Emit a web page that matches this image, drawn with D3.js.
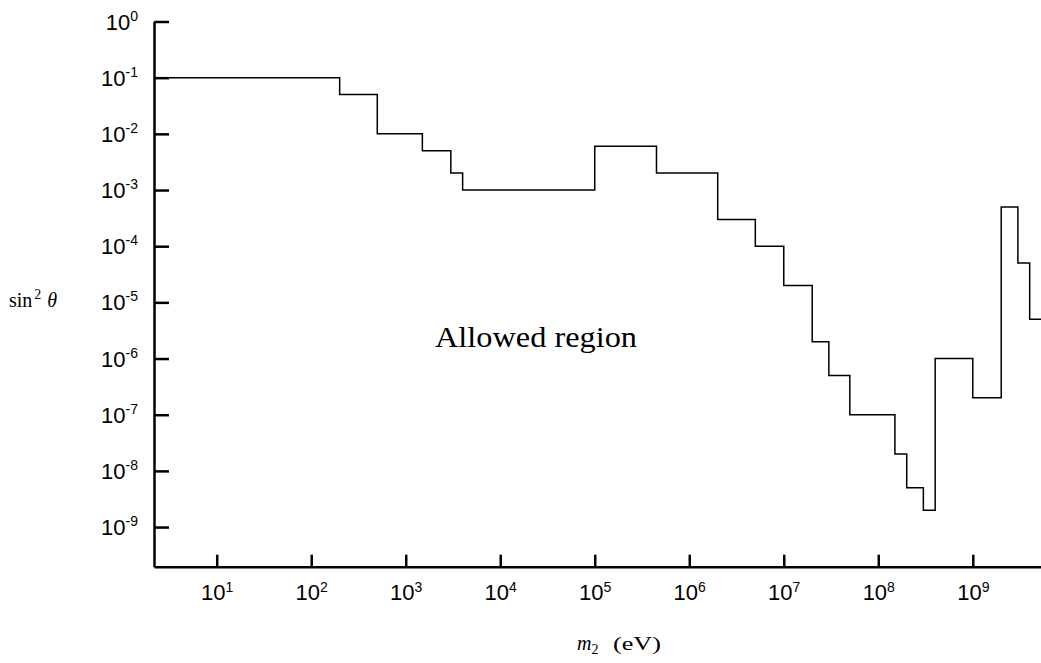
<!DOCTYPE html>
<meta charset="utf-8">
<style>
body { margin: 0; background: #fff; }
svg { display: block; }
.axis path, .axis line { stroke: #000; stroke-width: 2.5px; }
.axis text { font: 22px "Liberation Sans", Arial, sans-serif; fill: #000; }
.step { fill: none; stroke: #000; stroke-width: 1.5px; }
.serif { font-family: "Liberation Serif", "Times New Roman", serif; fill: #000; }
</style>
<body>
<svg width="1041" height="663"></svg>
<script src="https://cdn.jsdelivr.net/npm/d3@7"></script>
<script>

// exclusion limit: bin edges in m2 (eV) and sin^2(theta) value on each bin
let edges = [2.17, 200, 500, 1500, 3000, 4000, 1e5, 4.5e5, 2e6, 5e6, 1e7, 2e7, 3e7, 5e7,
  1.5e8, 2e8, 3e8, 4e8, 1e9, 2e9, 3e9, 4e9, 5.4e9];
let limits = [0.1, 0.05, 0.01, 0.005, 0.002, 0.001, 0.006, 0.002, 3e-4, 1e-4, 2e-5, 2e-6,
  5e-7, 1e-7, 2e-8, 5e-9, 2e-9, 1e-6, 2e-7, 5e-4, 5e-5, 5e-6];

let xExponents = [1, 2, 3, 4, 5, 6, 7, 8, 9];
let yExponents = [0, -1, -2, -3, -4, -5, -6, -7, -8, -9];

let svg = d3.select('svg');

let x = d3.scaleLog()
  .domain([edges[0], edges[edges.length - 1]])
  .range([154, 1042]);

let y = d3.scaleLog()
  .domain([1, 1.97e-10])
  .range([21.5, 566.7]);

// axes
let xAxis = svg.append('g')
  .attr('class', 'axis')
  .attr('transform', 'translate(0,' + y.range()[1] + ')')
  .call(d3.axisBottom(x)
    .tickValues(xExponents.map(e => Math.pow(10, e)))
    .tickSize(-12)
    .tickSizeOuter(0)
    .tickFormat(''));

xAxis.selectAll('.tick').each(function(d, i) {
  let t = d3.select(this).select('text')
    .attr('y', 33).attr('dy', 0)
    .attr('text-anchor', 'middle');
  t.append('tspan').text('10');
  t.append('tspan').attr('dy', -8).style('font-size', '14px').text(xExponents[i]);
});

let yAxis = svg.append('g')
  .attr('class', 'axis')
  .attr('transform', 'translate(' + x.range()[0] + ',0)')
  .call(d3.axisLeft(y)
    .tickValues(yExponents.map(e => Math.pow(10, e)))
    .tickSize(-15)
    .tickSizeOuter(0)
    .tickFormat(''));

yAxis.selectAll('.tick').each(function(d, i) {
  let t = d3.select(this).select('text')
    .attr('x', -16).attr('dy', 7.5)
    .attr('text-anchor', 'end');
  t.append('tspan').text('10');
  t.append('tspan').attr('dy', -9).style('font-size', '14px').text(yExponents[i]);
});

// step line
let points = limits.map((v, i) => [edges[i], v]);
points.push([edges[edges.length - 1], limits[limits.length - 1]]);

svg.append('path')
  .datum(points)
  .attr('class', 'step')
  .attr('d', d3.line()
    .x(d => x(d[0]))
    .y(d => y(d[1]))
    .curve(d3.curveStepAfter));

// labels
let yl = svg.append('text').attr('class', 'serif')
  .attr('x', 9).attr('y', 306.5).style('font-size', '20px');
yl.append('tspan').text('sin');
yl.append('tspan').attr('dy', -8).attr('dx', 2).style('font-size', '14px').text('2');
yl.append('tspan').attr('dy', 8).attr('dx', 6).style('font-style', 'italic').text('θ');

svg.append('text').attr('class', 'serif')
  .attr('x', 435).attr('y', 347)
  .attr('textLength', 202).attr('lengthAdjust', 'spacingAndGlyphs')
  .style('font-size', '30px')
  .text('Allowed region');

let xl = svg.append('text').attr('class', 'serif')
  .attr('x', 577).attr('y', 650).style('font-size', '20px');
xl.append('tspan').style('font-style', 'italic').text('m');
xl.append('tspan').attr('dy', 4).style('font-size', '14px').text('2');

svg.append('text').attr('class', 'serif')
  .attr('x', 613).attr('y', 650).style('font-size', '19px')
  .attr('textLength', 48).attr('lengthAdjust', 'spacingAndGlyphs')
  .text('(eV)');

</script>
</body>
